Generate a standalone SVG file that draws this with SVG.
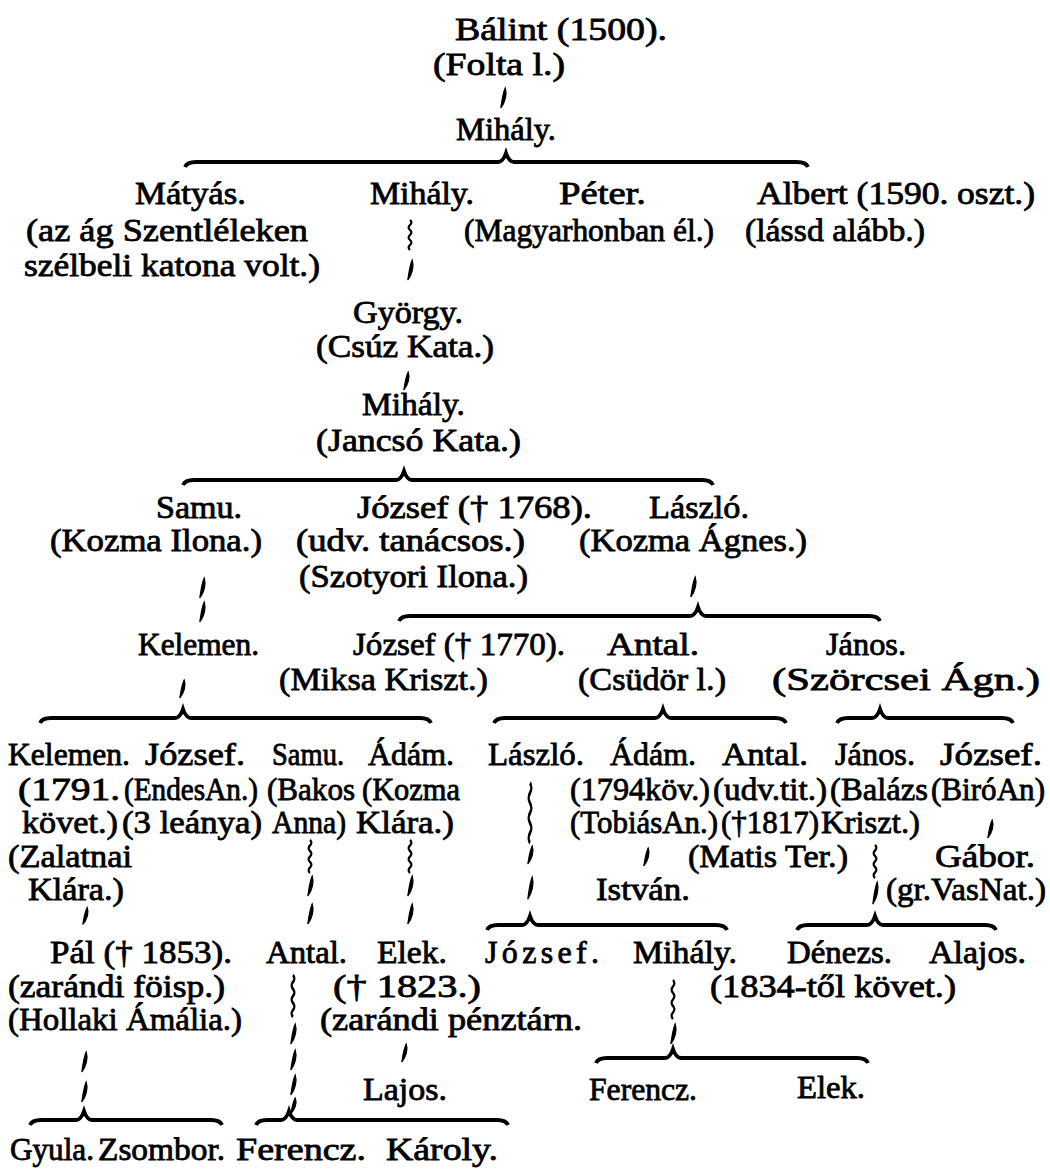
<svg xmlns="http://www.w3.org/2000/svg" xmlns:xlink="http://www.w3.org/1999/xlink" width="1050" height="1169" viewBox="0 0 1050 1169">
<style>
.t{font-family:"Liberation Serif","Times New Roman",serif;font-size:32px;font-weight:normal;fill:#000;stroke:#000;stroke-width:0.8}
.br{fill:none;stroke:#000;stroke-width:3.8}
.wv{fill:none;stroke:#000;stroke-width:2.2}
</style>
<defs>
<path id="tk" d="M2.2,-10 C4.2,-4 2.2,4 -2.2,10 C-1.2,4 -0.4,-4 2.2,-10Z" fill="#000" stroke="#000" stroke-width="1.2"/>
<path id="wg" class="wv" d="M0,0 q2.8,2.5 0,5 q-2.8,2.5 0,5 q2.8,2.5 0,5 q-2.8,2.5 0,5 q2.8,2.5 0,5 q-2.8,2.5 0,5"/>
</defs>
<rect width="1050" height="1169" fill="#fff"/>

<g id="connectors">
<use href="#tk" transform="translate(503,98)"/>
<path class="br" d="M185,167 Q187,162 196,162 L498,162 Q503,162 506,153 Q509,162 514,162 L797,162 Q806,162 808,167"/>
<use href="#wg" transform="translate(410,220)"/>
<use href="#tk" transform="translate(410,270)"/>
<use href="#tk" transform="translate(406,381) scale(1,0.9)"/>
<path class="br" d="M183,485 Q185,480 194,480 L396,480 Q401,480 404,471 Q407,480 412,480 L702,480 Q711,480 713,485"/>
<use href="#tk" transform="translate(202,588)"/>
<use href="#tk" transform="translate(202,612)"/>
<use href="#tk" transform="translate(693,587)"/>
<path class="br" d="M399,621 Q401,616 410,616 L690,616 Q695,616 698,607 Q701,616 706,616 L869,616 Q878,616 880,621"/>
<use href="#tk" transform="translate(182,689) scale(1,0.9)"/>
<path class="br" d="M40,723 Q42,718 51,718 L175,718 Q180,718 183,709 Q186,718 191,718 L420,718 Q429,718 431,723"/>
<path class="br" d="M494,723 Q496,718 505,718 L655,718 Q660,718 663,709 Q666,718 671,718 L775,718 Q784,718 786,723"/>
<path class="br" d="M837,723 Q839,718 848,718 L872,718 Q877,718 880,709 Q883,718 888,718 L1002,718 Q1011,718 1013,723"/>
<use href="#wg" transform="translate(530,783) scale(1,2)"/>
<use href="#tk" transform="translate(530,855) scale(1,0.9)"/>
<use href="#tk" transform="translate(530,888) scale(1,1.1)"/>
<path class="br" d="M487,930 Q489,925 498,925 L522,925 Q527,925 530,916 Q533,925 538,925 L716,925 Q725,925 727,930"/>
<use href="#wg" transform="translate(310,840) scale(1,1.1)"/>
<use href="#tk" transform="translate(310,886)"/>
<use href="#tk" transform="translate(310,914)"/>
<use href="#wg" transform="translate(410,840) scale(1,1.1)"/>
<use href="#tk" transform="translate(410,886)"/>
<use href="#tk" transform="translate(410,914)"/>
<use href="#tk" transform="translate(646,857) scale(1,0.9)"/>
<use href="#tk" transform="translate(990,829) scale(1,0.9)"/>
<use href="#wg" transform="translate(875,845) scale(1,1.1)"/>
<use href="#tk" transform="translate(875,893) scale(1,1.1)"/>
<path class="br" d="M797,930 Q799,925 808,925 L867,925 Q872,925 875,916 Q878,925 883,925 L985,925 Q994,925 996,930"/>
<use href="#tk" transform="translate(85,916) scale(1,0.85)"/>
<use href="#wg" transform="translate(293,975) scale(1,1.4)"/>
<use href="#tk" transform="translate(293,1034)"/>
<use href="#tk" transform="translate(293,1060)"/>
<use href="#tk" transform="translate(293,1085)"/>
<use href="#tk" transform="translate(293,1106) scale(1,0.8)"/>
<path class="br" d="M256,1125 Q258,1120 267,1120 L281,1120 Q286,1120 289,1111 Q292,1120 297,1120 L497,1120 Q506,1120 508,1125"/>
<use href="#tk" transform="translate(404,1053) scale(1,0.9)"/>
<use href="#tk" transform="translate(84,1062)"/>
<use href="#tk" transform="translate(84,1092)"/>
<path class="br" d="M30,1125 Q32,1120 41,1120 L76,1120 Q81,1120 84,1111 Q87,1120 92,1120 L211,1120 Q220,1120 222,1125"/>
<use href="#wg" transform="translate(673,980) scale(1,1.3)"/>
<use href="#tk" transform="translate(673,1034)"/>
<path class="br" d="M596,1063 Q598,1058 607,1058 L665,1058 Q670,1058 673,1049 Q676,1058 681,1058 L857,1058 Q866,1058 868,1063"/>
</g>

<g id="n-balint"><text class="t" x="455" y="40" textLength="212" lengthAdjust="spacingAndGlyphs">Bálint (1500).</text><text class="t" x="433" y="75" textLength="132" lengthAdjust="spacingAndGlyphs">(Folta l.)</text></g>
<g id="n-mihaly1"><text class="t" x="456" y="140" textLength="100" lengthAdjust="spacingAndGlyphs">Mihály.</text></g>
<g id="n-matyas"><text class="t" x="135" y="204" textLength="111" lengthAdjust="spacingAndGlyphs">Mátyás.</text><text class="t" x="26" y="241" textLength="282" lengthAdjust="spacingAndGlyphs">(az ág Szentléleken</text><text class="t" x="24" y="276" textLength="296" lengthAdjust="spacingAndGlyphs">szélbeli katona volt.)</text></g>
<g id="n-mihaly2"><text class="t" x="370" y="204" textLength="104" lengthAdjust="spacingAndGlyphs">Mihály.</text></g>
<g id="n-peter"><text class="t" x="559" y="204" textLength="87" lengthAdjust="spacingAndGlyphs">Péter.</text><text class="t" x="464" y="241" textLength="250" lengthAdjust="spacingAndGlyphs">(Magyarhonban él.)</text></g>
<g id="n-albert"><text class="t" x="757" y="204" textLength="278" lengthAdjust="spacingAndGlyphs">Albert (1590. oszt.)</text><text class="t" x="745" y="241" textLength="180" lengthAdjust="spacingAndGlyphs">(lássd alább.)</text></g>
<g id="n-gyorgy"><text class="t" x="353" y="323" textLength="110" lengthAdjust="spacingAndGlyphs">György.</text><text class="t" x="316" y="357" textLength="178" lengthAdjust="spacingAndGlyphs">(Csúz Kata.)</text></g>
<g id="n-mihaly3"><text class="t" x="362" y="415" textLength="103" lengthAdjust="spacingAndGlyphs">Mihály.</text><text class="t" x="316" y="451" textLength="205" lengthAdjust="spacingAndGlyphs">(Jancsó Kata.)</text></g>
<g id="n-samu1"><text class="t" x="156" y="518" textLength="86" lengthAdjust="spacingAndGlyphs">Samu.</text><text class="t" x="50" y="551" textLength="212" lengthAdjust="spacingAndGlyphs">(Kozma Ilona.)</text></g>
<g id="n-jozsef1"><text class="t" x="357" y="518" textLength="235" lengthAdjust="spacingAndGlyphs">József († 1768).</text><text class="t" x="296" y="551" textLength="229" lengthAdjust="spacingAndGlyphs">(udv. tanácsos.)</text><text class="t" x="299" y="587" textLength="229" lengthAdjust="spacingAndGlyphs">(Szotyori Ilona.)</text></g>
<g id="n-laszlo1"><text class="t" x="649" y="518" textLength="100" lengthAdjust="spacingAndGlyphs">László.</text><text class="t" x="579" y="551" textLength="228" lengthAdjust="spacingAndGlyphs">(Kozma Ágnes.)</text></g>
<g id="n-kelemen1"><text class="t" x="138" y="655" textLength="121" lengthAdjust="spacingAndGlyphs">Kelemen.</text></g>
<g id="n-jozsef2"><text class="t" x="353" y="655" textLength="212" lengthAdjust="spacingAndGlyphs">József († 1770).</text><text class="t" x="279" y="690" textLength="209" lengthAdjust="spacingAndGlyphs">(Miksa Kriszt.)</text></g>
<g id="n-antal1"><text class="t" x="607" y="655" textLength="92" lengthAdjust="spacingAndGlyphs">Antal.</text><text class="t" x="578" y="690" textLength="148" lengthAdjust="spacingAndGlyphs">(Csüdör l.)</text></g>
<g id="n-janos1"><text class="t" x="826" y="655" textLength="80" lengthAdjust="spacingAndGlyphs">János.</text><text class="t" x="772" y="690" textLength="268" lengthAdjust="spacingAndGlyphs">(Szörcsei Ágn.)</text></g>
<g id="n-kelemen2"><text class="t" x="8" y="765" textLength="122" lengthAdjust="spacingAndGlyphs">Kelemen.</text><text class="t" x="18" y="800" textLength="102" lengthAdjust="spacingAndGlyphs">(1791.</text><text class="t" x="22" y="833" textLength="96" lengthAdjust="spacingAndGlyphs">követ.)</text><text class="t" x="8" y="867" textLength="124" lengthAdjust="spacingAndGlyphs">(Zalatnai</text><text class="t" x="28" y="900" textLength="96" lengthAdjust="spacingAndGlyphs">Klára.)</text></g>
<g id="n-jozsef3"><text class="t" x="145" y="765" textLength="100" lengthAdjust="spacingAndGlyphs">József.</text><text class="t" x="124" y="800" textLength="134" lengthAdjust="spacingAndGlyphs">(EndesAn.)</text><text class="t" x="122" y="833" textLength="140" lengthAdjust="spacingAndGlyphs">(3 leánya)</text></g>
<g id="n-samu2"><text class="t" x="272" y="765" textLength="72" lengthAdjust="spacingAndGlyphs">Samu.</text><text class="t" x="267" y="800" textLength="88" lengthAdjust="spacingAndGlyphs">(Bakos</text><text class="t" x="272" y="833" textLength="74" lengthAdjust="spacingAndGlyphs">Anna)</text></g>
<g id="n-adam1"><text class="t" x="368" y="765" textLength="86" lengthAdjust="spacingAndGlyphs">Ádám.</text><text class="t" x="362" y="800" textLength="98" lengthAdjust="spacingAndGlyphs">(Kozma</text><text class="t" x="356" y="833" textLength="98" lengthAdjust="spacingAndGlyphs">Klára.)</text></g>
<g id="n-laszlo2"><text class="t" x="488" y="765" textLength="96" lengthAdjust="spacingAndGlyphs">László.</text></g>
<g id="n-adam2"><text class="t" x="610" y="765" textLength="86" lengthAdjust="spacingAndGlyphs">Ádám.</text><text class="t" x="570" y="800" textLength="140" lengthAdjust="spacingAndGlyphs">(1794köv.)</text><text class="t" x="570" y="833" textLength="148" lengthAdjust="spacingAndGlyphs">(TobiásAn.)</text></g>
<g id="n-antal2"><text class="t" x="722" y="765" textLength="86" lengthAdjust="spacingAndGlyphs">Antal.</text><text class="t" x="713" y="800" textLength="114" lengthAdjust="spacingAndGlyphs">(udv.tit.)</text><text class="t" x="721" y="833" textLength="98" lengthAdjust="spacingAndGlyphs">(†1817)</text><text class="t" x="688" y="867" textLength="160" lengthAdjust="spacingAndGlyphs">(Matis Ter.)</text></g>
<g id="n-janos2"><text class="t" x="835" y="765" textLength="80" lengthAdjust="spacingAndGlyphs">János.</text><text class="t" x="830" y="800" textLength="98" lengthAdjust="spacingAndGlyphs">(Balázs</text><text class="t" x="821" y="833" textLength="99" lengthAdjust="spacingAndGlyphs">Kriszt.)</text></g>
<g id="n-jozsef4"><text class="t" x="940" y="765" textLength="102" lengthAdjust="spacingAndGlyphs">József.</text><text class="t" x="931" y="800" textLength="114" lengthAdjust="spacingAndGlyphs">(BiróAn)</text></g>
<g id="n-istvan"><text class="t" x="596" y="900" textLength="94" lengthAdjust="spacingAndGlyphs">István.</text></g>
<g id="n-gabor"><text class="t" x="935" y="867" textLength="100" lengthAdjust="spacingAndGlyphs">Gábor.</text><text class="t" x="886" y="900" textLength="160" lengthAdjust="spacingAndGlyphs">(gr.VasNat.)</text></g>
<g id="n-pal"><text class="t" x="50" y="963" textLength="182" lengthAdjust="spacingAndGlyphs">Pál († 1853).</text><text class="t" x="8" y="997" textLength="217" lengthAdjust="spacingAndGlyphs">(zarándi föisp.)</text><text class="t" x="8" y="1030" textLength="234" lengthAdjust="spacingAndGlyphs">(Hollaki Ámália.)</text></g>
<g id="n-antal3"><text class="t" x="266" y="963" textLength="81" lengthAdjust="spacingAndGlyphs">Antal.</text></g>
<g id="n-elek1"><text class="t" x="377" y="963" textLength="70" lengthAdjust="spacingAndGlyphs">Elek.</text><text class="t" x="333" y="997" textLength="148" lengthAdjust="spacingAndGlyphs">(† 1823.)</text><text class="t" x="320" y="1030" textLength="262" lengthAdjust="spacingAndGlyphs">(zarándi pénztárn.</text></g>
<g id="n-jozsef5"><text class="t" x="485" y="963" textLength="114" lengthAdjust="spacing">József.</text></g>
<g id="n-mihaly4"><text class="t" x="633" y="963" textLength="104" lengthAdjust="spacingAndGlyphs">Mihály.</text></g>
<g id="n-denes"><text class="t" x="787" y="963" textLength="105" lengthAdjust="spacingAndGlyphs">Dénezs.</text><text class="t" x="710" y="997" textLength="246" lengthAdjust="spacingAndGlyphs">(1834-től követ.)</text></g>
<g id="n-alajos"><text class="t" x="929" y="963" textLength="97" lengthAdjust="spacingAndGlyphs">Alajos.</text></g>
<g id="n-lajos"><text class="t" x="363" y="1100" textLength="84" lengthAdjust="spacingAndGlyphs">Lajos.</text></g>
<g id="n-ferencz1"><text class="t" x="589" y="1100" textLength="108" lengthAdjust="spacingAndGlyphs">Ferencz.</text></g>
<g id="n-elek2"><text class="t" x="797" y="1098" textLength="68" lengthAdjust="spacingAndGlyphs">Elek.</text></g>
<g id="n-gyula"><text class="t" x="10" y="1160" textLength="84" lengthAdjust="spacingAndGlyphs">Gyula.</text></g>
<g id="n-zsombor"><text class="t" x="98" y="1160" textLength="127" lengthAdjust="spacingAndGlyphs">Zsombor.</text></g>
<g id="n-ferencz2"><text class="t" x="236" y="1160" textLength="130" lengthAdjust="spacingAndGlyphs">Ferencz.</text></g>
<g id="n-karoly"><text class="t" x="386" y="1160" textLength="112" lengthAdjust="spacingAndGlyphs">Károly.</text></g>
</svg>
